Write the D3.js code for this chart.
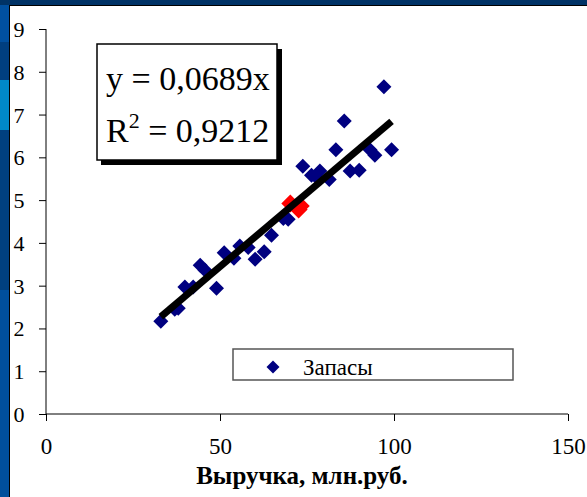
<!DOCTYPE html>
<html><head><meta charset="utf-8">
<script src="https://cdn.jsdelivr.net/npm/d3@7"></script>
<style>body{margin:0;padding:0;overflow:hidden;background:#fff}</style>
</head><body>
<svg id="c" width="587" height="497"></svg>
<script>
const revenue = [33, 38, 39.9, 42.3, 44.3, 45.7, 49, 51.2, 54, 55.7, 58.1, 60.1, 62.7, 64.8, 68.2, 69.6, 73.8, 76.3, 78.7, 81.4, 83.3, 85.7, 87.4, 90, 93.1, 94.5, 97.1, 99.3, 37, 77.5];
const stocks  = [2.17, 2.47, 2.97, 2.97, 3.48, 3.36, 2.94, 3.77, 3.64, 3.93, 3.89, 3.62, 3.79, 4.18, 4.57, 4.55, 5.79, 5.58, 5.68, 5.48, 6.18, 6.85, 5.68, 5.70, 6.18, 6.05, 7.65, 6.18, 2.45, 5.55];
const redX = [70.2, 72.6, 73.2];
const redY = [4.92, 4.78, 4.86];
const slope = 0.0689;
const r2 = "0,9212";
const xTicks = [0, 50, 100, 150];
const yTicks = [0,1,2,3,4,5,6,7,8,9];
const xTitle = "Выручка, млн.руб.";
const legendLabel = "Запасы";

const svg = d3.select("#c");
svg.append("rect").attr("x",0).attr("y",0).attr("width",587).attr("height",497).attr("fill","#fff");
svg.append("rect").attr("x",0).attr("y",0).attr("width",587).attr("height",5).attr("fill","#003366");
const strips = [[0,42,"#0050a0"],[42,80,"#003f80"],[80,130,"#0088c8"],[130,290,"#004080"],[290,497,"#004f9c"]];
strips.forEach(s=>svg.append("rect").attr("x",0).attr("y",s[0]).attr("width",9).attr("height",s[1]-s[0]).attr("fill",s[2]));
svg.append("rect").attr("x",0).attr("y",0).attr("width",9).attr("height",5).attr("fill","#003366");
svg.append("line").attr("x1",9.5).attr("x2",9.5).attr("y1",5).attr("y2",497).attr("stroke","#000").attr("stroke-width",1);
svg.append("line").attr("x1",9).attr("x2",587).attr("y1",5.5).attr("y2",5.5).attr("stroke","#000").attr("stroke-width",1);

const x = d3.scaleLinear().domain([0,150]).range([46,568]);
const y = d3.scaleLinear().domain([0,9]).range([414,29]);
const font = "'Liberation Serif','Times New Roman',serif";

const yAx = svg.append("g").attr("transform","translate(46,0)")
  .call(d3.axisLeft(y).tickValues(yTicks).tickSize(7).tickFormat(d=>d));
yAx.select(".domain").attr("stroke","#000").attr("d","M0,29V414");
yAx.selectAll("text").attr("font-family",font).attr("font-size",22).attr("fill","#000").attr("x",-27).attr("text-anchor","middle").attr("dy","0.34em");
const xAx = svg.append("g").attr("transform","translate(0,414)")
  .call(d3.axisBottom(x).tickValues(xTicks).tickSize(7).tickFormat(d=>d));
xAx.select(".domain").attr("stroke","#000").attr("d","M46,0H568");
xAx.selectAll("text").attr("font-family",font).attr("font-size",23).attr("fill","#000").attr("y",24).attr("dy","0.71em");
svg.selectAll(".tick line").attr("stroke","#000");

svg.append("text").attr("x",302).attr("y",484).attr("text-anchor","middle")
  .attr("font-family",font).attr("font-weight","bold").attr("font-size",25).text(xTitle);

const diamond = (h)=>`M0,${-h}L${h},0L0,${h}L${-h},0Z`;
svg.append("g").selectAll("path").data(revenue.map((v,i)=>[v,stocks[i]])).join("path")
  .attr("d",diamond(7.5)).attr("transform",d=>`translate(${x(d[0])},${y(d[1])})`).attr("fill","#000080");
svg.append("g").selectAll("path").data(redX.map((v,i)=>[v,redY[i]])).join("path")
  .attr("d",diamond(9)).attr("transform",d=>`translate(${x(d[0])},${y(d[1])})`).attr("fill","#ff0000");

const allX = revenue.concat(redX);
const x0 = d3.min(allX), x1 = d3.max(allX);
svg.append("line").attr("x1",x(x0)).attr("y1",y(slope*x0)).attr("x2",x(x1)).attr("y2",y(slope*x1))
  .attr("stroke","#000").attr("stroke-width",7);

svg.append("rect").attr("x",101).attr("y",49).attr("width",181).attr("height",116).attr("fill","#000");
svg.append("rect").attr("x",97).attr("y",44).attr("width",180).attr("height",116).attr("fill","#fff").attr("stroke","#000").attr("stroke-width",1.5);
svg.append("text").attr("x",106).attr("y",90).attr("font-family",font).attr("font-size",34).text("y = " + slope.toString().replace(".",",") + "x");
const t2 = svg.append("text").attr("x",106).attr("y",142).attr("font-family",font).attr("font-size",34);
t2.append("tspan").text("R");
t2.append("tspan").attr("font-size",22).attr("dy",-14).text("2");
t2.append("tspan").attr("dy",14).text(" = " + r2);

svg.append("rect").attr("x",233).attr("y",349).attr("width",280).attr("height",31).attr("fill","#fff").attr("stroke","#555").attr("stroke-width",1.5);
svg.append("path").attr("d",diamond(6.5)).attr("transform","translate(273,367)").attr("fill","#000080");
svg.append("text").attr("x",303).attr("y",375).attr("font-family",font).attr("font-size",23).text(legendLabel);
</script>
</body></html>
